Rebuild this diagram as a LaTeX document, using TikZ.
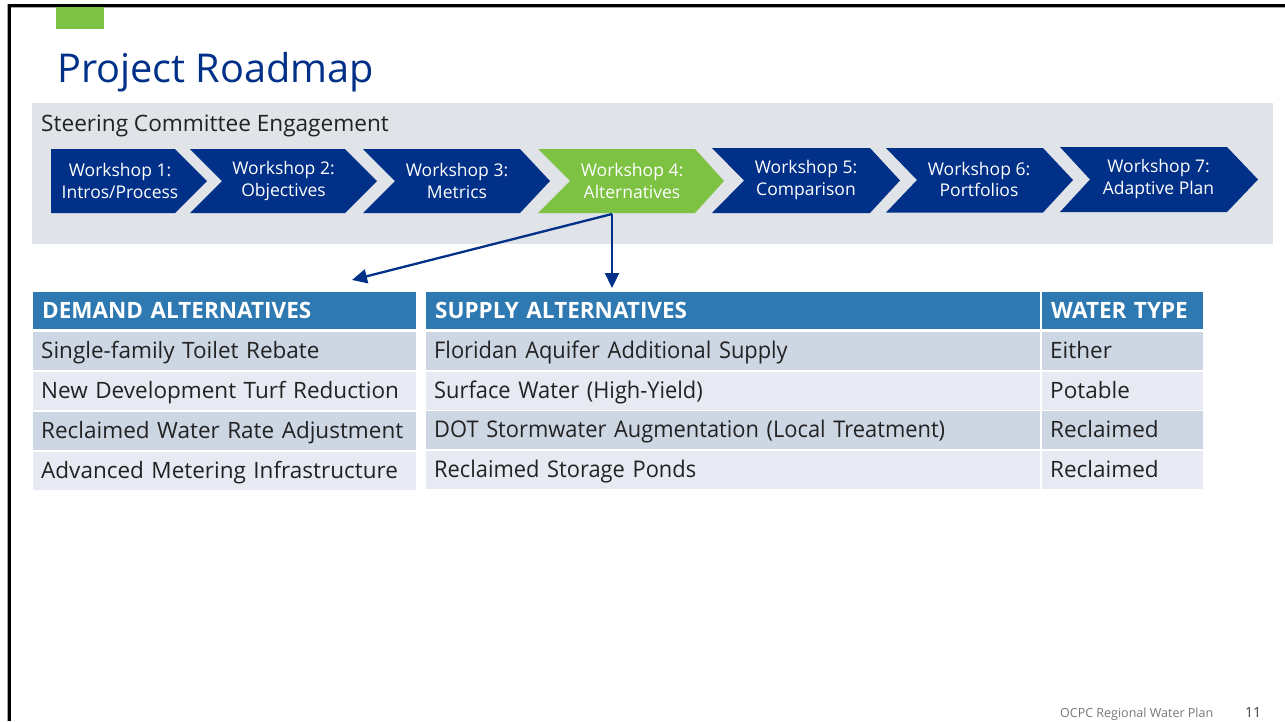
\documentclass[tikz,border=0pt]{standalone}
\usepackage{fontspec}
\setmainfont{Open Sans}
\newfontfamily\condf[FakeStretch=0.95]{Open Sans}
\usetikzlibrary{arrows.meta}
\definecolor{navy}{RGB}{0,48,135}
\definecolor{lgreen}{RGB}{125,194,66}
\definecolor{band}{RGB}{224,227,231}
\definecolor{hdr}{RGB}{46,121,177}
\definecolor{rowa}{RGB}{205,214,227}
\definecolor{rowb}{RGB}{231,234,242}
\definecolor{txt}{RGB}{34,34,34}
\definecolor{foot}{RGB}{120,120,120}
\tikzset{
  chev/.style={fill=navy},
  chevtxt/.style={text=white, align=center, font=\fontsize{17.5}{21.5}\selectfont, inner sep=0pt},
  hdrcell/.style={fill=hdr, anchor=north west, minimum height=37pt, inner xsep=9pt, inner ysep=0pt, text=white, text height=15pt, text depth=0pt, font=\fontsize{22.5}{26}\selectfont\bfseries},
  cell/.style={anchor=north west, minimum height=37.5pt, inner xsep=8pt, inner ysep=0pt, text=txt, text height=16pt, text depth=0pt, font=\fontsize{22.5}{26}\selectfont},
  scell/.style={cell, font=\fontsize{23}{26}\selectfont\condf},
  arr/.style={draw=navy, line width=2.3pt, -{Triangle[length=15pt,width=14pt]}}
}
\begin{document}
\begin{tikzpicture}[x=1pt,y=-1pt]
\useasboundingbox (0,0) rectangle (1285,721);
\fill[white] (0,0) rectangle (1285,721);
% frame
\draw[line width=4pt, black!35] (9.3,721) -- (9.3,5.5) -- (1285,5.5);
\draw[line width=2.6pt, black] (9.3,721) -- (9.3,5.5) -- (1285,5.5);
% green tab
\fill[lgreen] (56,7) rectangle (104,29);
% title
\node[anchor=base west, inner sep=0pt, text=navy, font=\fontsize{39.7}{48}\selectfont] (title) at (57,82) {Project Roadmap};
% band
\fill[band] (32,103) rectangle (1273,244);
\node[anchor=base west, inner sep=0pt, text=txt, font=\fontsize{22.6}{26}\selectfont] (sce) at (41,131) {Steering Committee Engagement};
% chevrons
\fill[chev] (51,149) -- (175,149) -- (207,181) -- (175,213) -- (51,213) -- cycle;
\fill[chev] (190,149) -- (345,149) -- (377,181) -- (345,213) -- (190,213) -- (222,181) -- cycle;
\fill[chev] (363,149) -- (520,149) -- (550,181) -- (520,213) -- (363,213) -- (395,181) -- cycle;
\fill[lgreen] (538,149) -- (695,149) -- (724,181) -- (695,213) -- (538,213) -- (570,181) -- cycle;
\fill[chev] (712,148) -- (870,148) -- (900,180.5) -- (870,213) -- (712,213) -- (744,180.5) -- cycle;
\fill[chev] (886,148) -- (1043,148) -- (1073,180) -- (1043,212.5) -- (886,212.5) -- (917,180) -- cycle;
\fill[chev] (1060,147) -- (1227,147) -- (1258,179.5) -- (1227,212) -- (1060,212) -- (1090,179.5) -- cycle;
\node[chevtxt] (w1) at (120,181) {Workshop 1:\\Intros/Process};
\node[chevtxt] (w2) at (283.5,181) {Workshop 2:\\Objectives};
\node[chevtxt] (w3) at (457,181) {Workshop 3:\\Metrics};
\node[chevtxt] (w4) at (632,181) {Workshop 4:\\Alternatives};
\node[chevtxt] (w5) at (806,180) {Workshop 5:\\Comparison};
\node[chevtxt] (w6) at (979,179.5) {Workshop 6:\\Portfolios};
\node[chevtxt] (w7) at (1158.5,179) {Workshop 7:\\Adaptive Plan};
% arrows
\coordinate (a0) at (612,214);
\coordinate (adem) at (352,280);
\coordinate (asup) at (612,288);
\draw[arr] (a0) -- (adem);
\draw[arr] (a0) -- (asup);
% demand table
\node[hdrcell, minimum width=383pt, text width=365pt] (dh) at (33,292) {DEMAND ALTERNATIVES};
\node[cell, fill=rowa, minimum width=383pt, text width=367pt] (d1) at (33,332) {Single-family Toilet Rebate};
\node[cell, fill=rowb, minimum width=383pt, text width=367pt] (d2) at (33,372) {New Development Turf Reduction};
\node[cell, fill=rowa, minimum width=383pt, text width=367pt] (d3) at (33,412) {Reclaimed Water Rate Adjustment};
\node[cell, fill=rowb, minimum width=383pt, text width=367pt] (d4) at (33,452) {Advanced Metering Infrastructure};
% supply table
\node[hdrcell, minimum width=614pt, text width=596pt] (sh) at (426,292) {SUPPLY ALTERNATIVES};
\node[hdrcell, minimum width=161pt, text width=143pt] (wh) at (1042,292) {WATER TYPE};
\node[scell, fill=rowa, minimum width=614pt, text width=598pt] (s1) at (426,332) {Floridan Aquifer Additional Supply};
\node[scell, fill=rowb, minimum width=614pt, text width=598pt] (s2) at (426,372) {Surface Water (High-Yield)};
\node[scell, fill=rowa, minimum width=614pt, text width=598pt] (s3) at (426,411) {DOT Stormwater Augmentation (Local Treatment)};
\node[scell, fill=rowb, minimum width=614pt, text width=598pt] (s4) at (426,451) {Reclaimed Storage Ponds};
\node[cell, fill=rowa, minimum width=161pt, text width=145pt] (t1) at (1042,332) {Either};
\node[cell, fill=rowb, minimum width=161pt, text width=145pt] (t2) at (1042,372) {Potable};
\node[cell, fill=rowa, minimum width=161pt, text width=145pt] (t3) at (1042,411) {Reclaimed};
\node[cell, fill=rowb, minimum width=161pt, text width=145pt] (t4) at (1042,451) {Reclaimed};
% footer
\node[anchor=base west, inner sep=0pt, text=foot, font=\fontsize{12.5}{14}\selectfont] (ft) at (1060,717) {OCPC Regional Water Plan};
\node[anchor=base west, inner sep=0pt, text=black!75, font=\fontsize{14}{16}\selectfont] (pg) at (1245,717) {11};
\end{tikzpicture}
\end{document}
